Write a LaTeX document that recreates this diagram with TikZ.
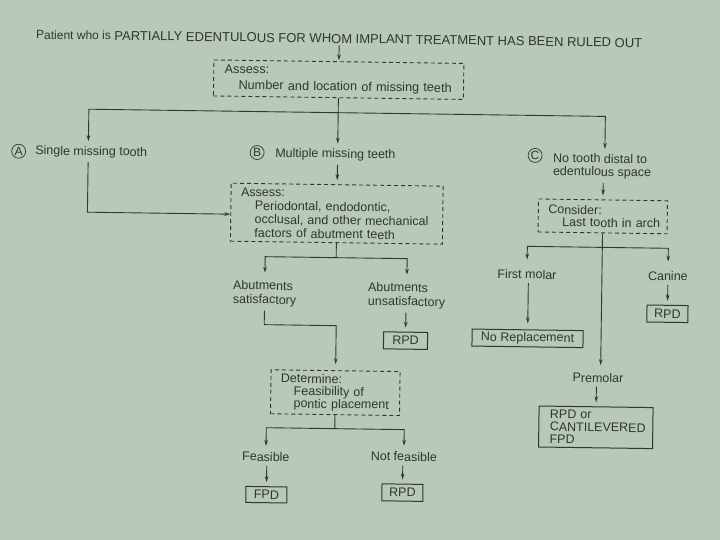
\documentclass[tikz,border=0pt]{standalone}
\usepackage{fontspec}
\setmainfont{Liberation Sans}
\usetikzlibrary{arrows.meta,calc}
\definecolor{bg}{RGB}{184,200,185}
\definecolor{ink}{RGB}{48,54,50}
\begin{document}
\begin{tikzpicture}[x=1pt,y=-1pt,
  txt/.style={font=\fontsize{12.5}{14}\selectfont, text=ink, inner sep=0pt, align=left},
  dbox/.style={draw=ink, line width=0.9pt, dash pattern=on 4pt off 3pt, text=ink, align=left},
  sbox/.style={draw=ink, line width=1pt, text=ink, inner sep=0pt, font=\fontsize{12.5}{14}\selectfont},
  circ/.style={circle, draw=ink, line width=0.7pt, inner sep=0pt, minimum size=14pt, text=ink, font=\fontsize{12}{12}\selectfont},
  ln/.style={draw=ink, line width=0.9pt},
  arr/.style={draw=ink, line width=0.9pt, -{Stealth[length=6pt,width=3.6pt]}}
]
\fill[bg] (0,0) rectangle (720,540);
\useasboundingbox (0,0) rectangle (720,540);
\begin{scope}[transform canvas={rotate around={-0.8:(360pt,-270pt)}}]
% title
\node[txt, font=\fontsize{13}{14}\selectfont] (title) at (336,39) {{\fontsize{12}{14}\selectfont Patient who is} PARTIALLY EDENTULOUS FOR WHOM IMPLANT TREATMENT HAS BEEN RULED OUT};
\node[dbox, text width=228pt, inner xsep=11pt, inner ysep=4pt, minimum width=250pt, minimum height=36pt, font=\fontsize{12.7}{16}\selectfont] (a1) at (336,80) {Assess:\\\hspace*{14pt}\mbox{Number and location of missing teeth}};
% A B C
\node[circ] (cA) at (17,156) {A};
\node[txt, anchor=west] (tA) at (33.5,156) {Single missing tooth};
\node[circ] (cB) at (255.5,154) {B};
\node[txt, anchor=west] (tB) at (273.5,155) {Multiple missing teeth};
\node[circ] (cC) at (533.5,153) {C};
\node[txt, anchor=west, font=\fontsize{12.5}{13}\selectfont] (tC) at (551.5,163) {No tooth distal to\\edentulous space};
% box 2
\node[dbox, text width=192pt, inner xsep=10pt, inner ysep=3pt, minimum width=212pt, minimum height=58pt, font=\fontsize{12.5}{13.7}\selectfont] (b2) at (336,214) {Assess:\\\hspace*{14pt}\mbox{Periodontal, endodontic,}\\\hspace*{14pt}\mbox{occlusal, and other mechanical}\\\hspace*{14pt}\mbox{factors of abutment teeth}};
\node[txt] (tSat) at (265,295) {Abutments\\satisfactory};
\node[txt] (tUns) at (407,295) {Abutments\\unsatisfactory};
\node[sbox, minimum width=44pt, minimum height=17pt] (rpd1) at (406.5,340) {RPD};
\node[dbox, text width=109pt, inner xsep=10pt, inner ysep=3pt, minimum width=129pt, minimum height=44pt, font=\fontsize{12.5}{12.5}\selectfont] (det) at (337,393) {Determine:\\\hspace*{13pt}\mbox{Feasibility of}\\\hspace*{13pt}\mbox{pontic placement}};
\node[txt] (tFeas) at (268.5,458) {Feasible};
\node[txt] (tNot) at (406.5,456) {Not feasible};
\node[sbox, minimum width=41pt, minimum height=16pt] (fpd) at (269.5,496) {FPD};
\node[sbox, minimum width=41pt, minimum height=17pt] (rpd2) at (405.5,492) {RPD};
% right column
\node[dbox, text width=109pt, inner xsep=10pt, inner ysep=3pt, minimum width=129pt, minimum height=33pt, font=\fontsize{12.5}{12.5}\selectfont] (cons) at (602,213) {Consider:\\\hspace*{14pt}\mbox{Last tooth in arch}};
\node[txt] (tFM) at (527,272) {First molar};
\node[txt] (tCan) at (668,272) {Canine};
\node[sbox, minimum width=41pt, minimum height=17pt] (rpd3) at (668,309.5) {RPD};
\node[sbox, minimum width=111pt, minimum height=17pt] (norep) at (528.5,336) {No Replacement};
\node[txt] (tPre) at (599.5,374.5) {Premolar};
\node[sbox, text width=92pt, inner xsep=11pt, inner ysep=2pt, minimum width=114pt, minimum height=41pt, align=left, font=\fontsize{12.5}{12.5}\selectfont] (big) at (598,424) {RPD or\\\mbox{CANTILEVERED}\\FPD};
% connectors
\coordinate (j1) at (336,113);
\coordinate (j2) at (336,258);
\coordinate (j3) at (337,326);
\coordinate (j4) at (337,429);
\coordinate (j5) at (602,244);
\draw[arr, shorten <=2pt, shorten >=1pt] (a1.north |- title.south) -- (a1.north);
\draw[ln] (a1.south) -- (j1);
\draw[arr, shorten >=5pt] (j1) -- (j1 |- tB.north);
\draw[arr, shorten >=5pt] (j1) -| ($(tA.north)+(-3,0)$);
\draw[arr, shorten >=5pt] (j1) -| ($(tC.north)+(2.5,0)$);
\draw[arr, shorten <=4pt] ($(tA.south)+(-3,0)$) |- ([yshift=-2pt]b2.west);
\draw[arr, shorten <=4pt, shorten >=4pt] (b2.north |- tB.south) -- (b2.north);
\draw[ln] (b2.south) -- (j2);
\draw[arr, shorten >=8pt] (j2) -| (tSat.north);
\draw[arr, shorten >=8pt] (j2) -| (tUns.north);
\draw[arr, shorten <=4pt, shorten >=6pt] (tSat.south) |- (j3) -- (det.north);
\draw[arr, shorten <=4pt, shorten >=4pt] (rpd1.north |- tUns.south) -- (rpd1.north);
\draw[ln] (det.south) -- (j4);
\draw[arr, shorten >=6pt] (j4) -| (tFeas.north);
\draw[arr, shorten >=6pt] (j4) -| (tNot.north);
\draw[arr, shorten <=4pt, shorten >=4pt] (fpd.north |- tFeas.south) -- (fpd.north);
\draw[arr, shorten <=4pt, shorten >=4pt] (rpd2.north |- tNot.south) -- (rpd2.north);
\draw[arr, shorten <=4pt, shorten >=4pt] (cons.north |- tC.south) -- (cons.north);
\draw[arr, shorten >=8pt] (cons.south) -- (cons.south |- tPre.north);
\draw[arr, shorten >=10pt] (j5) -| (tFM.north);
\draw[arr, shorten >=10pt] (j5) -| (tCan.north);
\draw[arr, shorten <=4pt, shorten >=6pt] (norep.north |- tFM.south) -- (norep.north);
\draw[arr, shorten <=4pt, shorten >=4pt] (rpd3.north |- tCan.south) -- (rpd3.north);
\draw[arr, shorten <=4pt, shorten >=4pt] (big.north |- tPre.south) -- (big.north);
\end{scope}
\end{tikzpicture}
\end{document}
